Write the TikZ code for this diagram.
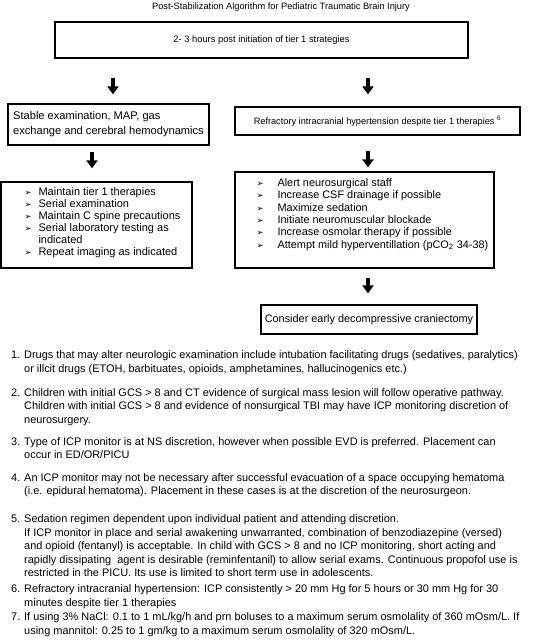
\documentclass[tikz,border=0pt]{standalone}
\usepackage{fontspec}
\setmainfont{Liberation Sans}
\newfontfamily\symfont{DejaVu Sans}
\usetikzlibrary{arrows.meta}

\newcommand{\bul}{{\symfont\fontsize{8.5}{8.5}\selectfont ➢}}

\tikzset{
  box/.style={draw, line width=1.3pt, inner sep=0pt},
  bigarrow/.style={line width=4pt, -{Triangle[width=11pt,length=8pt]}},
  listtext/.style={anchor=north west, inner sep=0pt},
  notetext/.style={anchor=base west, inner sep=0pt, font=\fontsize{10.95}{13.5}\selectfont},
}

\begin{document}
\begin{tikzpicture}[x=1pt,y=-1pt]

\useasboundingbox (0,0) rectangle (555,640);

\node[font=\fontsize{9.25}{11}\selectfont] (title) at (281,7) {Post-Stabilization Algorithm for Pediatric Traumatic Brain Injury};

% boxes
\node[box, minimum width=413pt, minimum height=36pt, font=\fontsize{9.35}{11}\selectfont] (start) at (261.5,40) {2- 3 hours post initiation of tier 1 strategies};
\node[box, minimum width=201pt, minimum height=41pt, align=left, font=\fontsize{11.1}{15}\selectfont] (stable) at (108.5,124.5) {Stable examination, MAP, gas\\exchange and cerebral hemodynamics};
\node[box, minimum width=285pt, minimum height=28pt, font=\fontsize{9.2}{11}\selectfont] (refractory) at (377.5,121) {Refractory intracranial hypertension despite tier 1 therapies \textsuperscript{6}};
\node[box, minimum width=191pt, minimum height=86pt] (maintain) at (96.5,225) {};
\node[box, minimum width=259pt, minimum height=96pt] (escalate) at (364.5,220) {};
\node[box, minimum width=216pt, minimum height=29pt, font=\fontsize{10.9}{12}\selectfont] (crani) at (369,319.5) {Consider early decompressive craniectomy};

% bullet lists
\node[listtext, font=\fontsize{11}{12}\selectfont] (maintainlist) at ([shift={(24,6)}]maintain.north west) {%
\begin{tabular}[t]{@{}p{14pt}@{}l@{}}
\bul & Maintain tier 1 therapies\\
\bul & Serial examination\\
\bul & Maintain C spine precautions\\
\bul & Serial laboratory testing as\\
     & indicated\\
\bul & Repeat imaging as indicated
\end{tabular}};
\node[listtext, font=\fontsize{10.9}{12.4}\selectfont] (escalatelist) at ([shift={(22,6)}]escalate.north west) {%
\begin{tabular}[t]{@{}p{21pt}@{}l@{}}
\bul & Alert neurosurgical staff\\
\bul & Increase CSF drainage if possible\\
\bul & Maximize sedation\\
\bul & Initiate neuromuscular blockade\\
\bul & Increase osmolar therapy if possible\\
\bul & Attempt mild hyperventillation (pCO\textsubscript{2} 34-38)
\end{tabular}};

% arrows
\coordinate (a1) at (113,78);
\coordinate (a2) at (368,78);
\coordinate (a3) at (92,152);
\coordinate (a4) at (368,151);
\coordinate (a5) at (368,278);
\draw[bigarrow, shorten >=9pt] (a1) -- (a1 |- stable.north);
\draw[bigarrow, shorten >=12pt] (a2) -- (a2 |- refractory.north);
\draw[bigarrow, shorten >=13pt] (a3) -- (a3 |- maintain.north);
\draw[bigarrow, shorten >=4pt] (a4) -- (a4 |- escalate.north);
\draw[bigarrow, shorten >=11pt] (a5) -- (a5 |- crani.north);

% footnotes
\node[notetext] (note1) at (11,358.5) {\begin{tabular}[t]{@{}p{13pt}@{}l@{}}
1. & Drugs that may alter neurologic examination include intubation facilitating drugs (sedatives, paralytics)\\
   & or illcit drugs (ETOH, barbituates, opioids, amphetamines, hallucinogenics etc.)
\end{tabular}};
\node[notetext] (note2) at (11,396) {\begin{tabular}[t]{@{}p{13pt}@{}l@{}}
2. & Children with initial GCS > 8 and CT evidence of surgical mass lesion will follow operative pathway.\\
   & Children with initial GCS > 8 and evidence of nonsurgical TBI may have ICP monitoring discretion of\\
   & neurosurgery.
\end{tabular}};
\node[notetext] (note3) at (11,445) {\begin{tabular}[t]{@{}p{13pt}@{}l@{}}
3. & Type of ICP monitor is at NS discretion, however when possible EVD is preferred. Placement can\\
   & occur in ED/OR/PICU
\end{tabular}};
\node[notetext] (note4) at (11,481) {\begin{tabular}[t]{@{}p{13pt}@{}l@{}}
4. & An ICP monitor may not be necessary after successful evacuation of a space occupying hematoma\\
   & (i.e. epidural hematoma). Placement in these cases is at the discretion of the neurosurgeon.
\end{tabular}};
\node[notetext] (note5) at (11,522.5) {\begin{tabular}[t]{@{}p{13pt}@{}l@{}}
5. & Sedation regimen dependent upon individual patient and attending discretion.\\
   & If ICP monitor in place and serial awakening unwarranted, combination of benzodiazepine (versed)\\
   & and opioid (fentanyl) is acceptable. In child with GCS > 8 and no ICP monitoring, short acting and\\
   & rapidly dissipating \ agent is desirable (reminfentanil) to allow serial exams. Continuous propofol use is\\
   & restricted in the PICU. Its use is limited to short term use in adolescents.
\end{tabular}};
\node[notetext] (note6) at (11,592.5) {\begin{tabular}[t]{@{}p{13pt}@{}l@{}}
6. & Refractory intracranial hypertension: ICP consistently > 20 mm Hg for 5 hours or 30 mm Hg for 30\\
   & minutes despite tier 1 therapies
\end{tabular}};
\node[notetext] (note7) at (11,620.5) {\begin{tabular}[t]{@{}p{13pt}@{}l@{}}
7. & If using 3\% NaCl: 0.1 to 1 mL/kg/h and prn boluses to a maximum serum osmolality of 360 mOsm/L. If\\
   & using mannitol: 0.25 to 1 gm/kg to a maximum serum osmolality of 320 mOsm/L.
\end{tabular}};

\end{tikzpicture}
\end{document}
